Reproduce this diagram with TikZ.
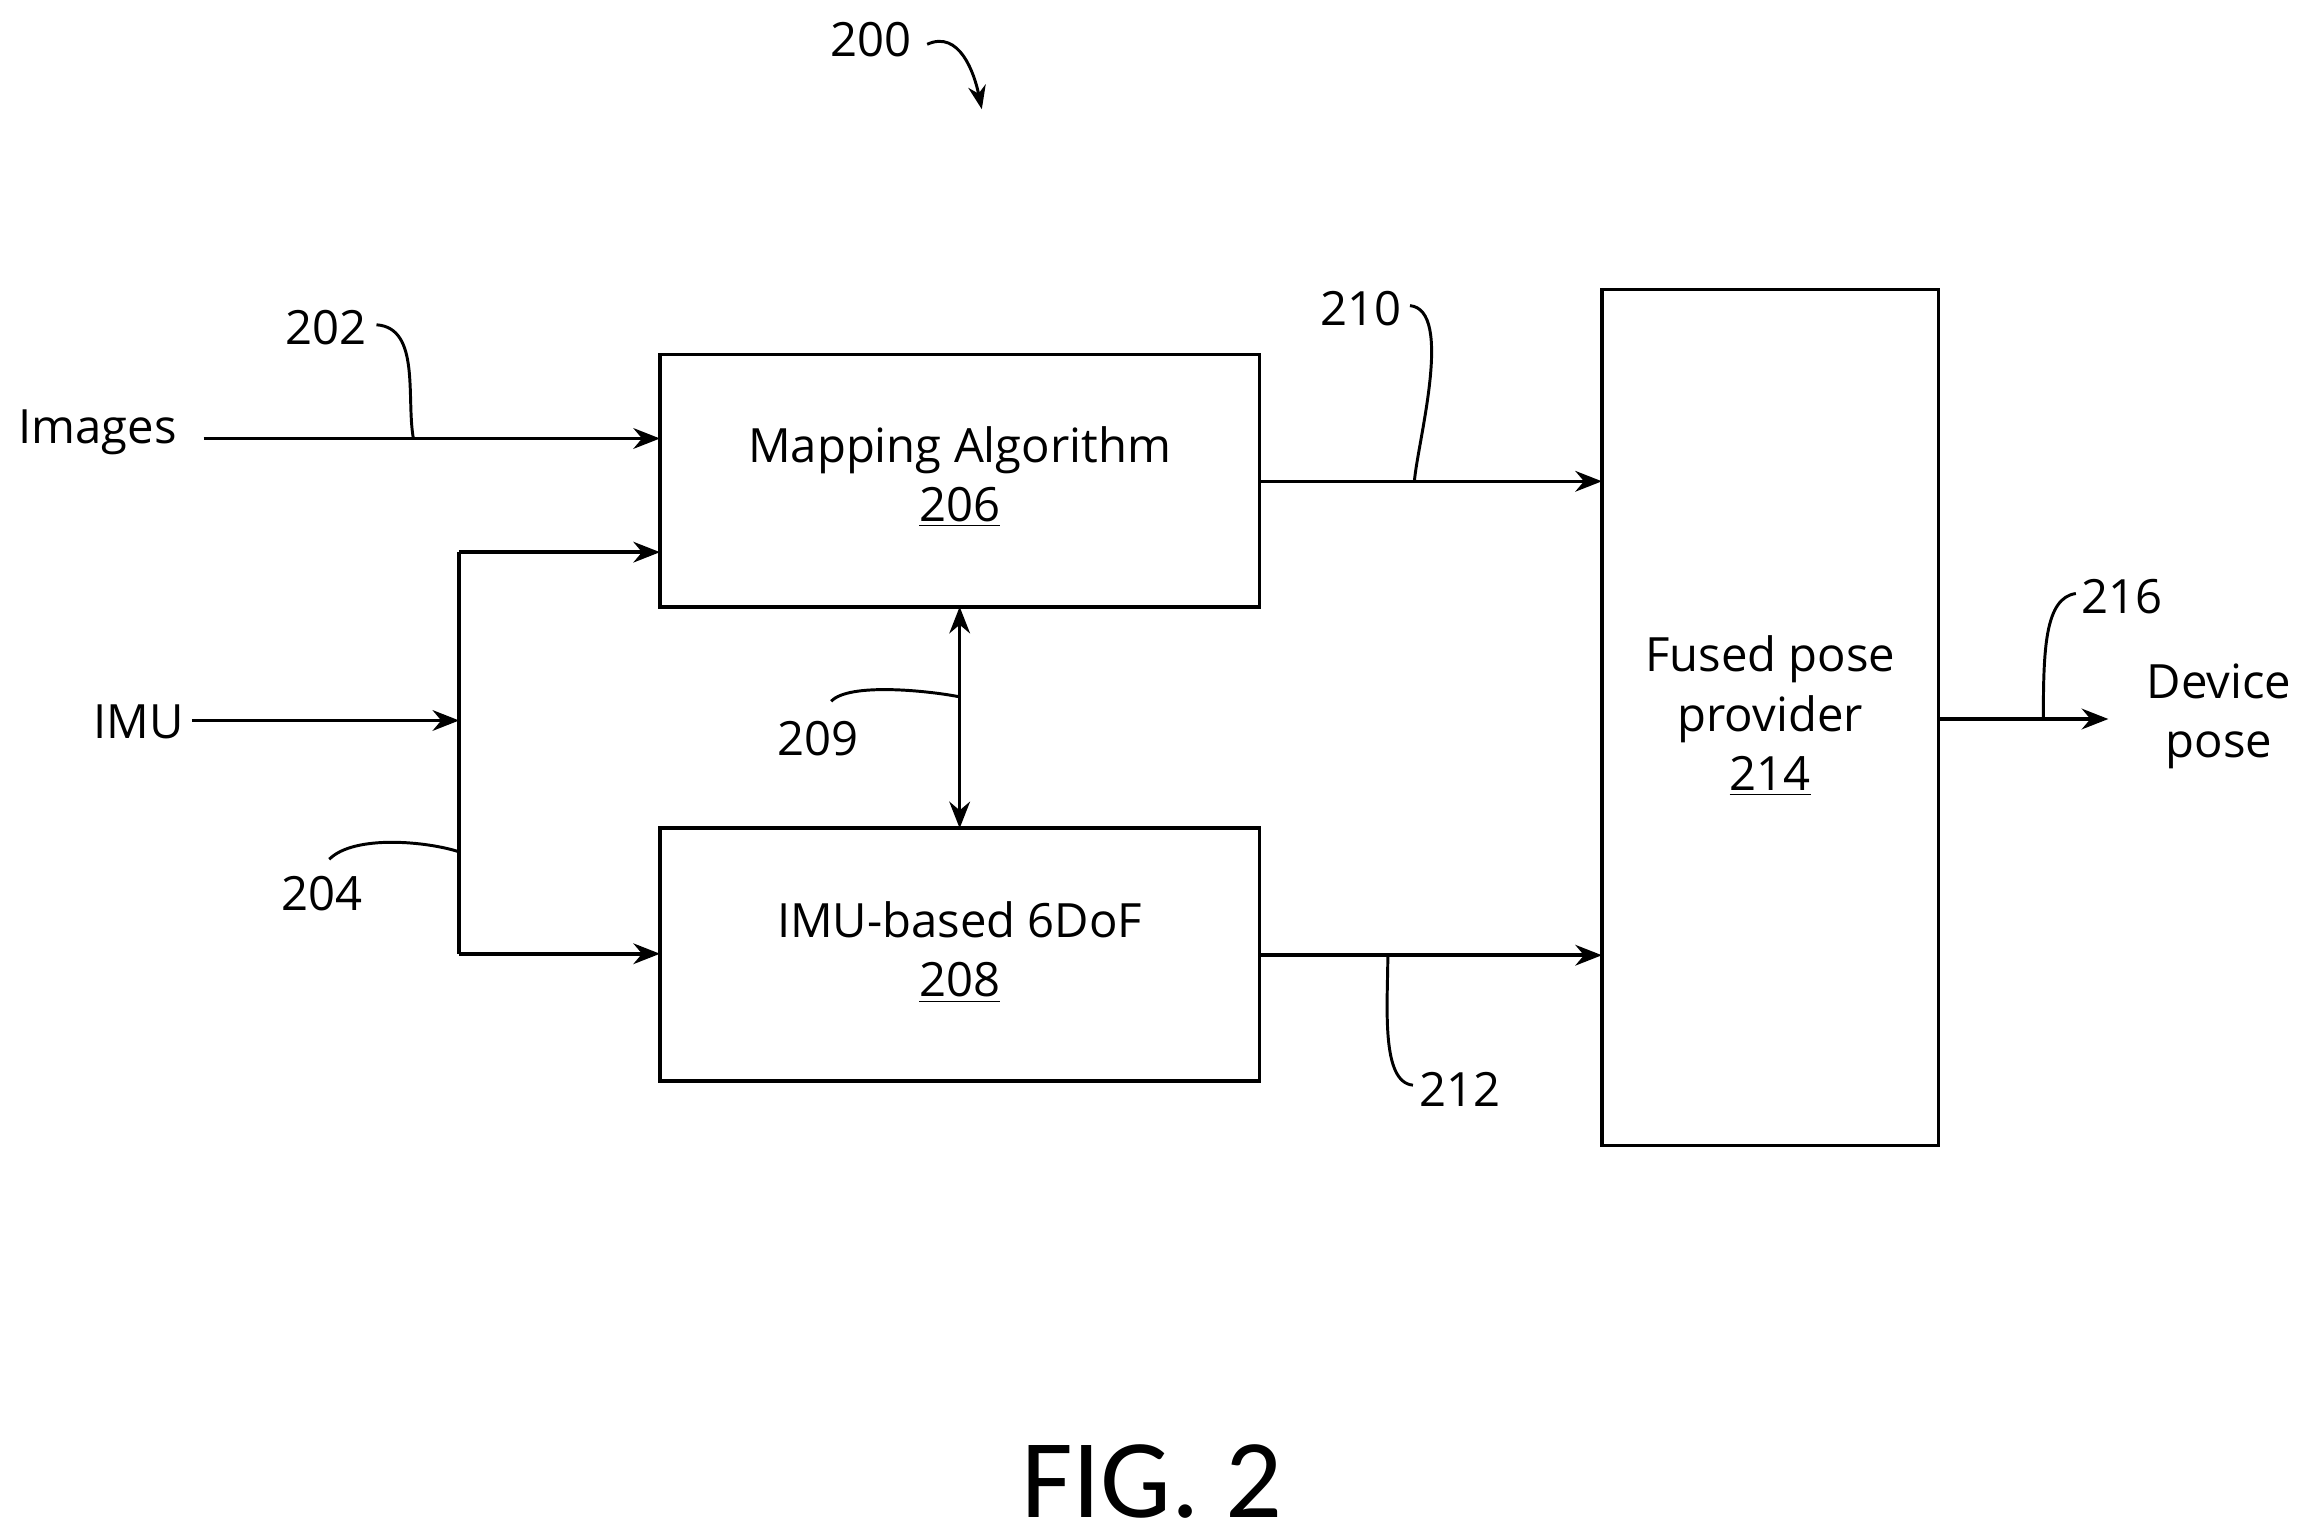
\documentclass[tikz,border=0pt]{standalone}
\usepackage{fontspec}
\setmainfont{Open Sans}
\newfontfamily\figfont{Carlito}
\usetikzlibrary{arrows.meta}
\begin{document}
\begin{tikzpicture}[x=0.5pt,y=-0.5pt,
  box/.style={draw,line width=1.2pt,inner sep=0pt},
  arr/.style={line width=1.2pt,-{Stealth[length=9pt,width=7pt]}},
  lead/.style={line width=1pt},
  txt/.style={font=\fontsize{16}{20}\selectfont,align=center,inner sep=0pt}]
\useasboundingbox (0,0) rectangle (1568,1042);
\node[box,minimum width=203pt,minimum height=85.5pt] (map) at (650,325.5) {};
\node[txt] at (650,323) {Mapping Algorithm\\\underline{206}};
\node[box,minimum width=203pt,minimum height=85.5pt] (imub) at (650,646.5) {};
\node[txt] at (650,645) {IMU-based 6DoF\\\underline{208}};
\node[box,minimum width=114pt,minimum height=290pt] (fused) at (1199,486) {};
\node[txt] at (1199,485) {Fused pose\\provider\\\underline{214}};
\node[txt,anchor=east] (img) at (120,293) {Images};
\node[txt,anchor=east] (imu) at (125,489) {IMU};
\node[txt] (dev) at (1503,485) {Device\\pose};
\coordinate (i1) at (138,297); \coordinate (i2) at (447,297);
\draw[arr] (i1) -- (i2);
\coordinate (u1) at (130,488); \coordinate (j) at (311,488);
\draw[arr] (u1) -- (j);
\coordinate (jt) at (311,374); \coordinate (jb) at (311,646);
\draw[line width=1.2pt] (jt) -- (jb);
\coordinate (mt) at (447,374); \coordinate (mb) at (447,646);
\draw[arr] (jt) -- (mt);
\draw[arr] (jb) -- (mb);
\coordinate (d1) at (650,411); \coordinate (d2) at (650,561);
\draw[line width=1.2pt,{Stealth[length=9pt,width=7pt]}-{Stealth[length=9pt,width=7pt]}] (d1) -- (d2);
\coordinate (o1) at (853,326); \coordinate (o2) at (1085,326);
\draw[arr] (o1) -- (o2);
\coordinate (p1) at (853,647); \coordinate (p2) at (1085,647);
\draw[arr] (p1) -- (p2);
\coordinate (q1) at (1313,487); \coordinate (q2) at (1428,487);
\draw[arr] (q1) -- (q2);
\node[txt] (l200) at (590,27) {200};
\coordinate (a200s) at (628,30); \coordinate (a200e) at (665,74);
\draw[lead,-{Stealth[length=8pt,width=6pt]}] (a200s) .. controls (650,20) and (660,50) .. (a200e);
\node[txt] (l202) at (221,222) {202};
\coordinate (c202) at (255,220); \coordinate (e202) at (280,297);
\draw[lead] (c202) .. controls (285,222) and (275,270) .. (e202);
\node[txt] (l210) at (922,209) {210};
\coordinate (c210) at (955,207); \coordinate (e210) at (958,326);
\draw[lead] (c210) .. controls (985,210) and (960,300) .. (e210);
\node[txt] (l209) at (554,500) {209};
\coordinate (c209) at (563,475); \coordinate (e209) at (650,472);
\draw[lead] (c209) .. controls (575,462) and (630,468) .. (e209);
\node[txt] (l204) at (218,605) {204};
\coordinate (c204) at (223,582); \coordinate (e204) at (311,577);
\draw[lead] (c204) .. controls (240,565) and (290,570) .. (e204);
\node[txt] (l212) at (989,738) {212};
\coordinate (c212) at (957,735); \coordinate (e212) at (940,647);
\draw[lead] (c212) .. controls (935,733) and (940,680) .. (e212);
\node[txt] (l216) at (1437,404) {216};
\coordinate (c216) at (1406,402); \coordinate (e216) at (1384,487);
\draw[lead] (c216) .. controls (1385,405) and (1384,440) .. (e216);
\node[inner sep=0pt,font=\figfont\fontsize{38}{44}\selectfont,anchor=base] (fig) at (780,1028) {FIG. 2};
\end{tikzpicture}
\end{document}
